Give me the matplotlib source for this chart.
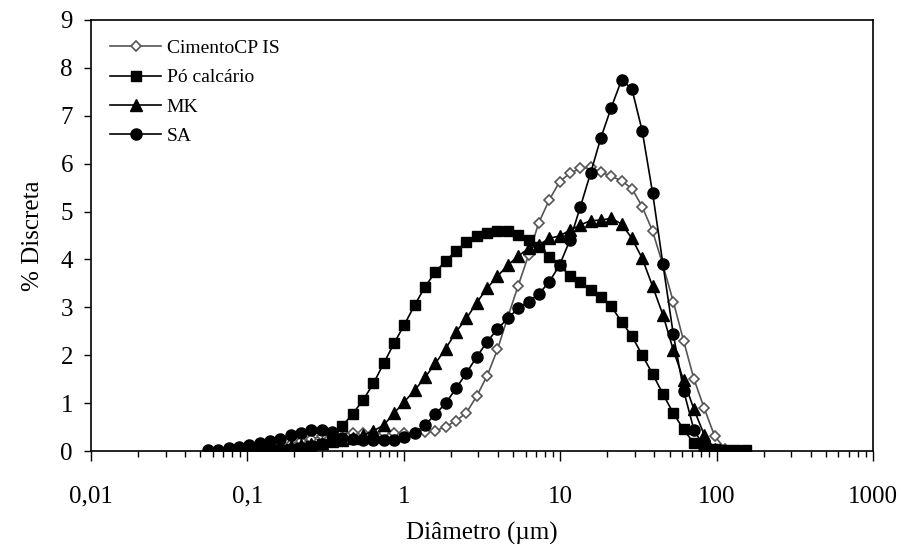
import numpy as np
import matplotlib
matplotlib.use('Agg')
import matplotlib.pyplot as plt
from matplotlib.ticker import LogLocator, FixedLocator, NullFormatter

plt.rcParams['font.family'] = ['Liberation Serif', 'DejaVu Serif']

# particle size classes (um), shared by all four curves
diam = [0.0559, 0.0651, 0.0758, 0.0883, 0.1028, 0.1197, 0.1394, 0.1623, 0.1890,
        0.2202, 0.2563, 0.2985, 0.3475, 0.4047, 0.4712, 0.5487, 0.6390, 0.7441,
        0.8666, 1.009, 1.175, 1.368, 1.593, 1.855, 2.160, 2.516, 2.930, 3.411,
        3.972, 4.626, 5.386, 6.272, 7.303, 8.504, 9.90, 11.53, 13.43, 15.63,
        18.20, 21.20, 24.69, 28.74, 33.47, 38.98, 45.39, 52.85, 61.54, 71.66,
        83.45, 97.16, 113.1, 131.7, 153.4]

# % discreta per series (first class index in *_start)
cp_start = 6
cp = [0.05, 0.10, 0.15, 0.20, 0.25, 0.31, 0.35, 0.37, 0.38, 0.38, 0.38, 0.38,
      0.37, 0.37, 0.38, 0.40, 0.42, 0.51, 0.63, 0.80, 1.15, 1.57, 2.12, 2.80,
      3.45, 4.09, 4.77, 5.24, 5.62, 5.80, 5.90, 5.92, 5.82, 5.74, 5.64, 5.48,
      5.10, 4.59, 3.88, 3.12, 2.30, 1.50, 0.89, 0.31, 0.05]

po_start = 4
po = [0, 0, 0, 0.02, 0.04, 0.07, 0.10, 0.15, 0.25, 0.52, 0.78, 1.06, 1.41,
      1.83, 2.25, 2.64, 3.05, 3.43, 3.74, 3.97, 4.18, 4.36, 4.49, 4.56, 4.60,
      4.59, 4.51, 4.40, 4.27, 4.06, 3.88, 3.66, 3.52, 3.36, 3.21, 3.02, 2.70,
      2.40, 2.00, 1.61, 1.19, 0.79, 0.45, 0.16, 0.08, 0.04, 0.02, 0.02, 0.02]

mk_start = 4
mk = [0, 0.02, 0.04, 0.07, 0.10, 0.13, 0.15, 0.17, 0.20, 0.22, 0.27, 0.33,
      0.42, 0.54, 0.79, 1.03, 1.27, 1.54, 1.83, 2.14, 2.49, 2.77, 3.10, 3.40,
      3.65, 3.88, 4.07, 4.23, 4.30, 4.44, 4.49, 4.61, 4.72, 4.81, 4.82, 4.86,
      4.74, 4.44, 4.02, 3.44, 2.84, 2.11, 1.48, 0.87, 0.33, 0.05, 0.01]

sa_start = 0
sa = [0.02, 0.03, 0.06, 0.09, 0.13, 0.17, 0.20, 0.26, 0.33, 0.37, 0.44, 0.44,
      0.40, 0.28, 0.26, 0.24, 0.22, 0.22, 0.23, 0.30, 0.38, 0.54, 0.77, 1.00,
      1.31, 1.63, 1.97, 2.28, 2.55, 2.77, 2.98, 3.12, 3.28, 3.53, 3.88, 4.40,
      5.09, 5.80, 6.54, 7.17, 7.75, 7.56, 6.68, 5.39, 3.90, 2.44, 1.26, 0.44,
      0.08]


def xs(start, vals):
    return diam[start:start + len(vals)]


fig = plt.figure(figsize=(9.01, 5.44), dpi=100)
ax = fig.add_axes([91 / 901, 93 / 544, 782 / 901, 431 / 544])

ax.plot(xs(cp_start, cp), cp, color='#555555', lw=1.2, marker='D', ms=5.5,
        mfc='white', mec='#555555', mew=1.2, label='CimentoCP IS', zorder=3)
ax.plot(xs(po_start, po), po, color='black', lw=1.2, marker='s', ms=7.5,
        label='Pó calcário', zorder=4)
ax.plot(xs(mk_start, mk), mk, color='black', lw=1.2, marker='^', ms=8.5,
        label='MK', zorder=4)
ax.plot(xs(sa_start, sa), sa, color='black', lw=1.2, marker='o', ms=8,
        label='SA', zorder=5)

ax.set_xscale('log')
ax.set_xlim(0.01, 1000)
ax.set_ylim(0, 9)
ax.set_yticks(range(10))
ax.xaxis.set_major_locator(FixedLocator([0.01, 0.1, 1, 10, 100, 1000]))
ax.set_xticklabels(['0,01', '0,1', '1', '10', '100', '1000'])
ax.xaxis.set_minor_locator(LogLocator(base=10, subs=np.arange(2, 10), numticks=20))
ax.xaxis.set_minor_formatter(NullFormatter())

ax.tick_params(axis='both', which='major', direction='out', length=7,
               width=1, labelsize=18, colors='black')
ax.tick_params(axis='x', which='minor', direction='out', length=4, width=1)
ax.tick_params(axis='x', which='major', pad=18)
ax.tick_params(axis='y', which='major', length=5, pad=8)
for s in ax.spines.values():
    s.set_linewidth(1.2)

ax.set_xlabel('Diâmetro (µm)', fontsize=18, labelpad=10)
ax.set_ylabel('% Discreta', fontsize=18, labelpad=12)

ax.legend(loc='upper left', frameon=False, fontsize=14, handlelength=2.6,
          borderaxespad=0.6, labelspacing=0.6, handletextpad=0.3)

fig.savefig('out.png', dpi=100)
